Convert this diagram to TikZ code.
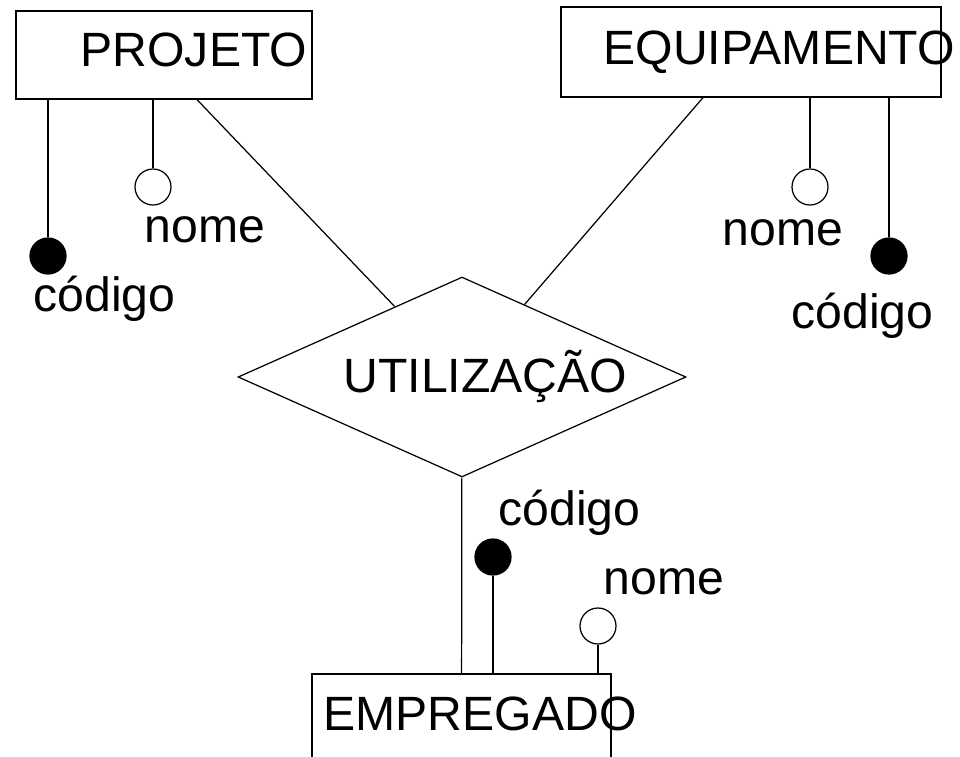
\documentclass[tikz,border=0pt]{standalone}
\usepackage{fontspec}
\setmainfont{Liberation Sans}
\usetikzlibrary{shapes.geometric}

\begin{document}
\begin{tikzpicture}[
            x = 0.02cm, y = -0.02cm, % one unit = one pixel of the sketch
            line width = 0.7pt, % line style
            every node/.style = {font=\fontsize{27.4}{32}\selectfont},
            ent/.style = {shape=rectangle, draw=black, inner sep=0pt},
            attr/.style = {shape=circle, draw=black, fill=white, minimum size=0.72cm, inner sep=0pt},
            key/.style = {attr, fill=black},
            txt/.style = {anchor=base west, inner sep=0pt}
        ]
\clip (0,0) rectangle (960,757);

\node[ent, minimum width=5.92cm, minimum height=1.76cm] (P) at (164,55) {};
\node[ent, minimum width=7.6cm, minimum height=1.8cm] (Q) at (751,52) {};
\node[ent, minimum width=5.98cm, minimum height=2.52cm] (M) at (461.5,737) {};
\node[shape=diamond, draw=black, aspect=2.24, inner sep=0pt,
      minimum width=8.96cm, minimum height=4cm] (U) at (462,377) {};

\node[txt] (Pt) at (80,67) {PROJETO};
\node[txt] (Qt) at (603,65) {EQUIPAMENTO};
\node[txt] (Mt) at (323,730) {EMPREGADO};
\node[txt] (Ut) at (343,392) {UTILIZAÇÃO};

\node[key] (Pc) at (48,256) {};
\node[attr] (Pn) at (153,187) {};
\node[attr] (Qn) at (810,187) {};
\node[key] (Qc) at (889,256) {};
\node[key] (Mc) at (493,557) {};
\node[attr] (Mn) at (598,626) {};

\node[txt] (Pcl) at (33,311) {código};
\node[txt] (Pnl) at (144,242) {nome};
\node[txt] (Qnl) at (722,245) {nome};
\node[txt] (Qcl) at (791,328) {código};
\node[txt] (Mcl) at (498,525) {código};
\node[txt] (Mnl) at (603,594) {nome};

 \path ([xshift=0.66cm]P.south) edge (U);
 \path ([xshift=-0.96cm]Q.south) edge (U);
 \path (U) edge (M);

  \path (Pc) edge (Pc |- P.south);
  \path (Pn) edge (Pn |- P.south);
  \path (Qn) edge (Qn |- Q.south);
  \path (Qc) edge (Qc |- Q.south);
  \path (Mc) edge (Mc |- M.north);
  \path (Mn) edge (Mn |- M.north);
\end{tikzpicture}
\end{document}
